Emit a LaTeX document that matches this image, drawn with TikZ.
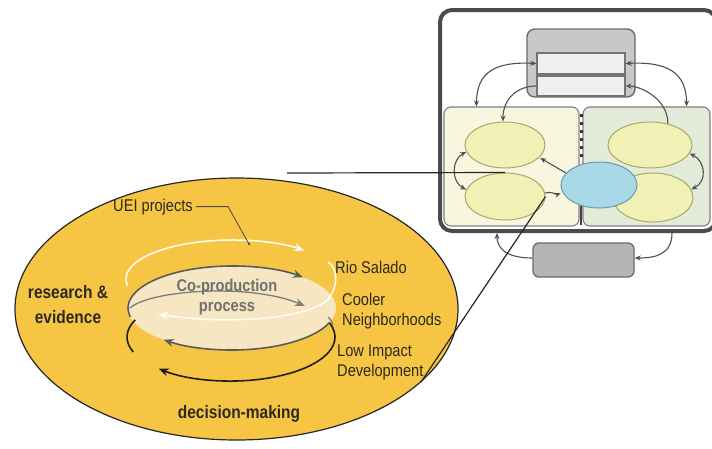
\documentclass[tikz,border=0pt]{standalone}
\usepackage{fontspec}
\setmainfont{Liberation Sans}[FakeStretch=0.86]
\usetikzlibrary{arrows.meta,shapes.geometric}

\definecolor{gold}{HTML}{F6C544}
\definecolor{cream}{HTML}{F6E7C2}
\definecolor{ink}{HTML}{2C2A20}
\definecolor{coilgray}{HTML}{5B5B5B}
\definecolor{midgray}{HTML}{7C7C7C}
\definecolor{framegray}{HTML}{4B4B4B}
\definecolor{boxgray}{HTML}{C8C8C8}
\definecolor{stripfill}{HTML}{EFEFEF}
\definecolor{lowgray}{HTML}{B5B5B5}
\definecolor{panelyellow}{HTML}{F8F6DF}
\definecolor{panelgreen}{HTML}{E2ECD8}
\definecolor{ovalfill}{HTML}{F1F0B5}
\definecolor{ovaledge}{HTML}{ADA668}
\definecolor{hubfill}{HTML}{A9D9E6}
\definecolor{hubedge}{HTML}{6D9AA5}
\definecolor{arrowgray}{HTML}{505050}

\tikzset{ptip/.tip={Stealth[length=6pt,width=5pt]}}

\begin{document}
\begin{tikzpicture}[x=1pt,y=-1pt,
  lbl/.style={font=\fontsize{17}{20}\selectfont, text=ink, inner sep=0pt},
  boldlbl/.style={font=\bfseries\fontsize{18}{24}\selectfont, text=ink, inner sep=0pt},
  coplbl/.style={font=\bfseries\fontsize{17}{20}\selectfont, text=midgray!90!black, inner sep=0pt},
  bigtip/.style={-{Stealth[length=10pt,width=8pt]}},
  wcoil/.style={draw=white!96!yellow, line width=1.5pt},
  dcoil/.style={draw=coilgray, line width=1.6pt},
  mcoil/.style={draw=midgray, line width=1.3pt},
  kcoil/.style={draw=black!88, line width=1.6pt},
  leader/.style={draw=ink!85, line width=0.8pt},
  link/.style={draw=black!85, line width=1.2pt},
  panelbox/.style={rectangle, rounded corners=7pt, draw=black!50, line width=1.1pt, inner sep=0pt},
  oval/.style={ellipse, fill=ovalfill, draw=ovaledge, line width=1pt, inner sep=0pt},
  parrow/.style={draw=arrowgray, line width=1.1pt},
]
\useasboundingbox (0,0) rectangle (712,448);

% ---------- the co-production cycle ----------
\draw[draw=black!85, line width=1.2pt, fill=gold]
  (236.5,309) ellipse [x radius=221.5, y radius=131];
\coordinate (zoomB) at (421,382);

% light band of the co-production process
\fill[cream] (232,308) ellipse [x radius=104, y radius=42];

% white coil (UEI projects)
\draw[wcoil, bigtip] (232,279) ++(170:106 and 39)
  arc[start angle=170, end angle=313, x radius=106, y radius=39];
\draw[wcoil, bigtip] (328,262) .. controls (338,268) and (337,285) .. (332,293)
  .. controls (325,318) and (230,326) .. (158,314);

% grey coil around the band
\draw[dcoil, bigtip] (232,308) ++(168:104 and 42)
  arc[start angle=168, end angle=313, x radius=104, y radius=42];
\draw[dcoil, bigtip] (232,308) ++(20:104 and 42)
  arc[start angle=20, end angle=131, x radius=104, y radius=42];

% middle turn
\draw[mcoil, bigtip] (130,308) .. controls (150,290) and (250,283) .. (305,306);
\draw[mcoil] (328,317) .. controls (332,321) .. (333,330);

% black coil (decision-making)
\draw[kcoil] (231,337) ++(203:104 and 44)
  arc[start angle=203, end angle=160, x radius=104, y radius=44];
\draw[kcoil, bigtip] (231,337) ++(-18:104 and 44)
  arc[start angle=-18, end angle=134, x radius=104, y radius=44];

% labels
\node[lbl, anchor=base west] (uei) at (113,211) {UEI projects};
\coordinate (ueidot) at (249,244);
\draw[leader] ([xshift=3pt]uei.east) -- +(32,0) -- (ueidot);
\fill[ink!85] (ueidot) circle[radius=1.3pt];

\node[coplbl, anchor=base] (cop1) at (227,291) {Co-production};
\node[coplbl, anchor=base] (cop2) at (227,311) {process};

\node[boldlbl, anchor=base] (res1) at (68,298) {research \&};
\node[boldlbl, anchor=base] (res2) at (68,323) {evidence};
\node[boldlbl, anchor=base] (dec) at (239,418) {decision-making};

\node[lbl, anchor=base west] (rio) at (335,273) {Rio Salado};
\node[lbl, anchor=base west] (cool1) at (342,305) {Cooler};
\node[lbl, anchor=base west] (cool2) at (342,325) {Neighborhoods};
\node[lbl, anchor=base west] (lid1) at (337,356.5) {Low Impact};
\node[lbl, anchor=base west] (lid2) at (337,376.5) {Development};

% ---------- system panel ----------
\draw[draw=framegray, line width=4pt, rounded corners=12pt, fill=white]
  (440,10) rectangle (716,231);

\node[panelbox, fill=boxgray, draw=black!58, line width=1.4pt, rounded corners=8pt,
      minimum width=108pt, minimum height=68pt] (tb) at (581,63) {};
\node[rectangle, fill=stripfill, draw=black!55, line width=1.1pt, inner sep=0pt,
      minimum width=88pt, minimum height=21pt] (s1) at (581,63.5) {};
\node[rectangle, fill=stripfill, draw=black!55, line width=1.1pt, inner sep=0pt,
      minimum width=88pt, minimum height=20pt] (s2) at (581,86) {};

\node[panelbox, fill=panelyellow, minimum width=135pt, minimum height=119pt] (lp) at (511.5,166.5) {};
\node[panelbox, fill=panelgreen, minimum width=127pt, minimum height=119pt] (rp) at (646.5,166.5) {};

\draw[draw=black!80, line width=3pt, dash pattern=on 3pt off 5pt] (581,114) -- (581,162);
\draw[draw=black!75, line width=1.4pt] (581,206) -- (581,225);

\node[oval, minimum width=80pt, minimum height=46pt] (tl) at (505,145) {};
\node[oval, minimum width=80pt, minimum height=47pt] (bl) at (505,196.5) {};
\node[oval, minimum width=84pt, minimum height=46pt] (tr) at (650,145) {};
\node[oval, minimum width=80pt, minimum height=49pt] (br) at (653,197.5) {};
\node[ellipse, fill=hubfill, draw=hubedge, line width=1pt, inner sep=0pt,
      minimum width=76pt, minimum height=46pt] (hub) at (599,185) {};

\node[panelbox, fill=lowgray, draw=black!58, line width=1.3pt, rounded corners=6pt,
      minimum width=101pt, minimum height=34pt] (bb) at (583.5,260) {};

% connectors inside the panel
\draw[parrow, ptip-ptip] (s1.west) .. controls +(-40,-2) and +(0,-35) .. ([xshift=33pt]lp.north west);
\draw[parrow, -ptip] (s2.west) .. controls +(-20,0) and +(0,-22) .. ([xshift=-2pt]tl.north);
\draw[parrow, ptip-ptip] (s1.east) .. controls +(40,-2) and +(0,-35) .. ([xshift=-24pt]rp.north east);
\draw[parrow, -ptip] (tr.50) .. controls +(0,-25) and +(15,0) .. (s2.east);
\draw[parrow, ptip-ptip] (tl.190) .. controls +(-15,8) and +(-15,-8) .. (bl.170);
\draw[parrow, ptip-ptip] (tr.-12) .. controls +(16,8) and +(16,-8) .. (br.12);
\draw[parrow, -ptip, shorten >=1pt] (hub.160) -- (tl.-20);
\draw[parrow, -ptip, shorten >=2pt] (bl.5) .. controls +(6,-2) and +(-6,2) .. (hub.192);

\coordinate (frameR) at (672,233);
\coordinate (frameL) at (497,233);
\draw[parrow, -ptip] (frameR) .. controls +(0,22) and +(20,0) .. ([yshift=2pt]bb.east);
\draw[parrow, -ptip] ([yshift=2pt]bb.west) .. controls +(-28,0) and +(0,14) .. (frameL);

% magnifying lines from the cycle to the panel
\coordinate (zoomA) at (287,173);
\draw[link] (zoomA) -- (bl.north);
\draw[link] (zoomB) -- (bl.east);
\end{tikzpicture}
\end{document}
